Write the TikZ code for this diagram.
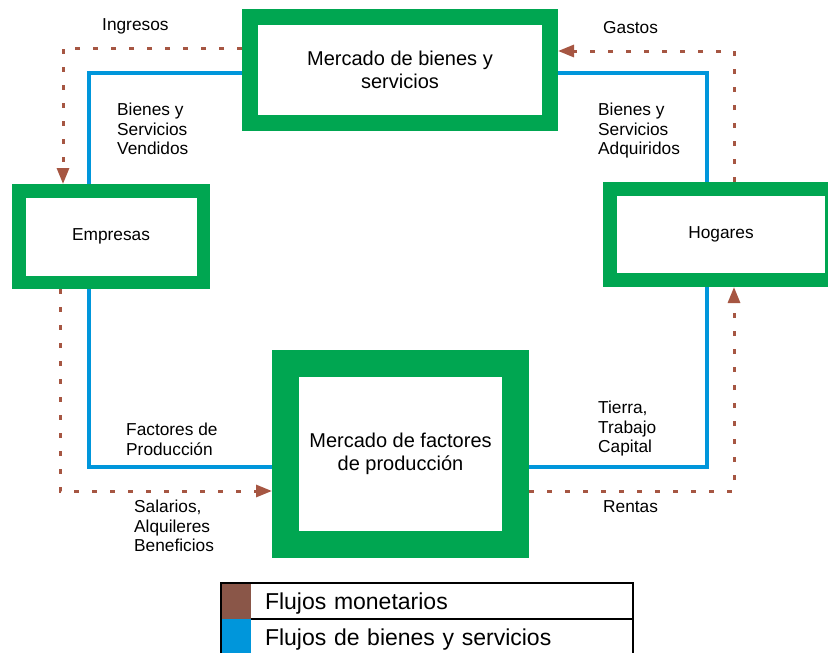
\documentclass[tikz,border=0pt]{standalone}
\usepackage{fontspec}
\setmainfont{Liberation Sans}
\usetikzlibrary{positioning,arrows.meta}
\definecolor{verde}{RGB}{0,166,81}
\definecolor{azul}{RGB}{0,150,219}
\definecolor{dinero}{RGB}{166,86,66}
\definecolor{marron}{RGB}{138,86,72}

\begin{document}
\begin{tikzpicture}[x=1pt, y=-1pt,
    box/.style = {draw=verde, fill=white, inner sep=0pt, align=center, font=\fontsize{17.3}{19.5}\selectfont},
    market/.style = {box, font=\fontsize{20}{22.5}\selectfont},
    goods/.style = {azul, line width=4.5pt},
    money/.style = {dinero, line width=3pt, dash pattern=on 5pt off 13pt, -{Triangle[length=16pt,width=12pt]}},
    lbl/.style = {anchor=north west, inner sep=0pt, align=left, font=\fontsize{17.3}{19.5}\selectfont},
    swatch/.style = {minimum width=30pt, minimum height=36pt, inner sep=0pt, outer sep=0pt},
    legend/.style = {minimum height=36pt, text width=354pt, text depth=0pt, inner xsep=14pt, inner ysep=0pt, outer sep=0pt, align=left, font=\fontsize{23}{27}\selectfont}]

    \useasboundingbox (0,0) rectangle (828,653);

    % the four agents
    \node[market, line width=16pt, minimum width=300pt, minimum height=106pt] (bienes) at (400,70) {Mercado de bienes y\\servicios};
    \node[box, line width=13.5pt, minimum width=184.5pt, minimum height=91.5pt] (empresas) at (111,236.5) {Empresas};
    \node[box, line width=14pt, minimum width=222pt, minimum height=91pt] (hogares) at (721,234.5) {Hogares};
    \node[market, line width=27pt, minimum width=230pt, minimum height=181pt] (factores) at (400.5,454) {Mercado de factores\\de producción};

    % goods and services
    \draw[goods] ([yshift=-3pt]bienes.west) -| ([xshift=-22pt]empresas.north);
    \draw[goods] ([yshift=-3pt]bienes.east) -| ([xshift=-14pt]hogares.north);
    \draw[goods] ([xshift=-22pt]empresas.south) |- ([yshift=-13pt]factores.west);
    \draw[goods] ([xshift=-14pt]hogares.south) |- ([yshift=-13pt]factores.east);

    % money
    \draw[money] ([yshift=22pt]bienes.west) -| ([xshift=-48pt]empresas.north);
    \draw[money] ([xshift=13pt]hogares.north) |- ([yshift=19pt]bienes.east);
    \draw[money] ([xshift=-51pt]empresas.south) |- ([yshift=-37pt]factores.west);
    \draw[money] ([yshift=-37pt]factores.east) -| ([xshift=13pt]hogares.south);

    \node[lbl] (ingresos) at (102,18) {Ingresos};
    \node[lbl] (gastos) at (603,21) {Gastos};
    \node[lbl] (vendidos) at (117,103) {Bienes y\\Servicios\\Vendidos};
    \node[lbl] (adquiridos) at (598,103) {Bienes y\\Servicios\\Adquiridos};
    \node[lbl] (factprod) at (126,423) {Factores de\\Producción};
    \node[lbl] (salarios) at (134,500) {Salarios,\\Alquileres\\Beneficios};
    \node[lbl] (tierra) at (598,401) {Tierra,\\Trabajo\\Capital};
    \node[lbl] (rentas) at (603,500) {Rentas};

    % legend
    \node[swatch, fill=marron] (sw1) at (236,601) {};
    \node[legend, right=0pt of sw1] (leg1) {Flujos monetarios};
    \node[swatch, fill=azul, below=0pt of sw1] (sw2) {};
    \node[legend, below=0pt of leg1] (leg2) {Flujos de bienes y servicios};
    \draw[line width=1.8pt] (leg1.south west) -- (leg1.south east);
    \draw[line width=1.8pt] (sw1.north west) rectangle (leg2.south east);

\end{tikzpicture}
\end{document}
